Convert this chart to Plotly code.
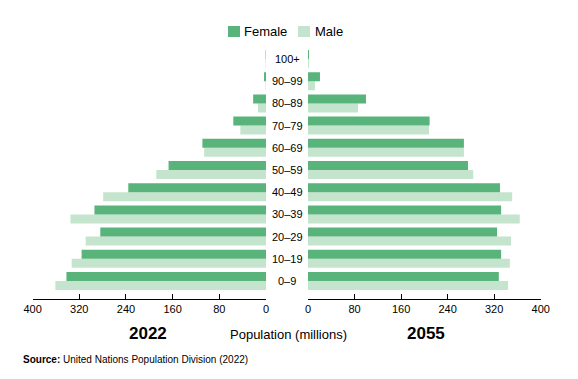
import plotly.graph_objects as go

# The page places the figure 8 px in from the top-left corner of the window,
# so the figure is sized to fill the rest of the 578x379 window.
OFF = 8
W, H = 578 - OFF, 379 - OFF

age_groups = ["0–9", "10–19", "20–29", "30–39", "40–49", "50–59",
              "60–69", "70–79", "80–89", "90–99", "100+"]

female_2022 = [342, 316, 284, 294, 236, 167, 109, 56, 22, 3.4, 0.6]
male_2022 = [361, 333, 309, 335, 279, 188, 106, 44, 13.7, 0.5, 0.3]
female_2055 = [328, 332, 325, 332, 330, 275, 268, 209, 99.7, 20.6, 1.7]
male_2055 = [344, 347, 349, 364, 351, 284, 268, 208, 86, 12, 1]

x_ticks = [0, 80, 160, 240, 320, 400]

FEMALE = "#58b47a"
MALE = "#c5e4cd"
FONT = "Liberation Sans, Arial, Helvetica, sans-serif"


def px(x):
    """window pixel x -> paper fraction"""
    return (x - OFF) / W


def py(y):
    """window pixel y -> paper fraction"""
    return 1 - (y - OFF) / H


fig = go.Figure()

# Male first so that female sits above it within each group
fig.add_trace(go.Bar(y=age_groups, x=male_2022, orientation="h", name="Male",
                     marker=dict(color=MALE, line=dict(width=0)),
                     xaxis="x", yaxis="y", showlegend=False))
fig.add_trace(go.Bar(y=age_groups, x=female_2022, orientation="h", name="Female",
                     marker=dict(color=FEMALE, line=dict(width=0)),
                     xaxis="x", yaxis="y", showlegend=False))
fig.add_trace(go.Bar(y=age_groups, x=male_2055, orientation="h", name="Male",
                     marker=dict(color=MALE, line=dict(width=0)),
                     xaxis="x2", yaxis="y2", showlegend=False))
fig.add_trace(go.Bar(y=age_groups, x=female_2055, orientation="h", name="Female",
                     marker=dict(color=FEMALE, line=dict(width=0)),
                     xaxis="x2", yaxis="y2", showlegend=False))

y_dom = [py(299), py(47.9)]
y_range = [-0.81, 10.5]

axis_common = dict(
    tickvals=x_ticks, ticktext=[str(t) for t in x_ticks],
    showline=True, linecolor="black", linewidth=1,
    ticks="inside", ticklen=5, tickcolor="black", tickwidth=1,
    showgrid=False, zeroline=False, fixedrange=True, automargin=False,
    tickfont=dict(family=FONT, size=11, color="black"),
)
yaxis_common = dict(
    domain=y_dom, range=y_range, categoryorder="array", categoryarray=age_groups,
    showticklabels=False, showline=False, showgrid=False, zeroline=False, ticks="",
    automargin=False, fixedrange=True,
)

fig.update_layout(
    template="none",
    width=W, height=H,
    margin=dict(l=0, r=0, t=0, b=0, pad=0, autoexpand=False),
    paper_bgcolor="white", plot_bgcolor="white",
    barmode="group", bargap=0.19, bargroupgap=0,
    font=dict(family=FONT, color="black"),
    showlegend=False,
    xaxis=dict(domain=[px(32.6), px(266)], range=[400, 0], anchor="y", **axis_common),
    xaxis2=dict(domain=[px(308), px(540.7)], range=[0, 400], anchor="y2", **axis_common),
    yaxis=dict(anchor="x", **yaxis_common),
    yaxis2=dict(anchor="x2", **yaxis_common),
)

annotations = []
for g in age_groups:
    annotations.append(dict(x=px(287), xref="paper", y=g, yref="y", text=g, showarrow=False,
                            xanchor="center", yanchor="middle",
                            font=dict(family=FONT, size=11, color="black")))

# legend (swatch + label)
legend_items = [("Female", FEMALE, 233.7, 242.7), ("Male", MALE, 304, 314)]
for name, color, sx, tx in legend_items:
    annotations.append(dict(x=px(sx), y=py(31.5), xref="paper", yref="paper", text=" ",
                            showarrow=False, xanchor="center", yanchor="middle",
                            width=12, height=11, bgcolor=color, borderpad=0, borderwidth=0,
                            font=dict(size=1)))
    annotations.append(dict(x=px(tx), y=py(31.5), xref="paper", yref="paper", text=name,
                            showarrow=False, xanchor="left", yanchor="middle", borderpad=0,
                            font=dict(family=FONT, size=13, color="black")))

annotations += [
    dict(x=px(148), y=py(333.5), xref="paper", yref="paper", text="<b>2022</b>",
         showarrow=False, xanchor="center", yanchor="middle",
         font=dict(family=FONT, size=17, color="black")),
    dict(x=px(425.7), y=py(333.5), xref="paper", yref="paper", text="<b>2055</b>",
         showarrow=False, xanchor="center", yanchor="middle",
         font=dict(family=FONT, size=17, color="black")),
    dict(x=px(288), y=py(334.5), xref="paper", yref="paper", text="Population (millions)",
         showarrow=False, xanchor="center", yanchor="middle",
         font=dict(family=FONT, size=13, color="black")),
    dict(x=px(22), y=py(359.6), xref="paper", yref="paper",
         text="<b>Source:</b> United Nations Population Division (2022)",
         showarrow=False, xanchor="left", yanchor="middle", borderpad=0,
         font=dict(family=FONT, size=10, color="black")),
]
fig.update_layout(annotations=annotations)

fig.write_html("out.html")
